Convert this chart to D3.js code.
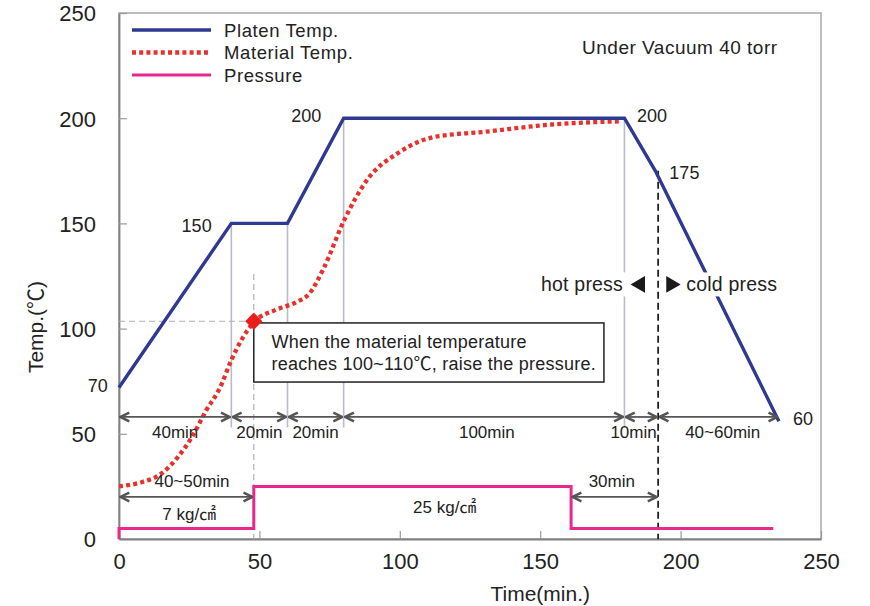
<!DOCTYPE html>
<html>
<head>
<meta charset="utf-8">
<script src="https://cdn.jsdelivr.net/npm/d3@7"></script>
<style>
  body { margin: 0; background: #fff; }
  text { font-family: "Liberation Sans", Arial, "Noto Sans CJK JP", sans-serif; fill: #222; }
</style>
</head>
<body>
<svg width="870" height="606"></svg>
<script>
////////////////////////////// DATA //////////////////////////////

var timeTicks = [0, 50, 100, 150, 200, 250];
var tempTicks = [0, 50, 100, 150, 200, 250];

// [time (min), temperature (C)]
var platenTemp = [[0, 72], [40, 150], [60, 150], [80, 200], [180, 200], [191, 175], [235, 56]];
var materialTemp = [[0, 25], [8, 27], [15, 31], [21, 39], [26, 48.5], [31, 61], [36, 72], [40, 85],
                    [44, 95.5], [48, 103], [56, 109], [63, 112.5], [68, 117], [73, 129], [80, 151],
                    [88, 170], [100, 184], [112, 191], [130, 193.5], [154, 197], [178, 198.5]];
// pressure drawn on the temperature scale
var pressure = [[0, 0], [0, 5], [48, 5], [48, 25], [161, 25], [161, 5], [233, 5]];

// thin grey guides that drop from the platen corners
var stageTimes = [40, 60, 80, 180];

var spans = [
  {t0: 0,   t1: 40,  at: 58, label: "40min",    lt: 20,    lT: 50.5, anchor: "middle"},
  {t0: 40,  t1: 60,  at: 58, label: "20min",    lt: 50,    lT: 50.5, anchor: "middle"},
  {t0: 60,  t1: 80,  at: 58, label: "20min",    lt: 70,    lT: 50.5, anchor: "middle"},
  {t0: 80,  t1: 180, at: 58, label: "100min",   lt: 131,   lT: 50.5, anchor: "middle"},
  {t0: 180, t1: 192, at: 58, label: "10min",    lt: 191.5, lT: 50.5, anchor: "end"},
  {t0: 192, t1: 235, at: 58, label: "40~60min", lt: 215,   lT: 50.5, anchor: "middle"},
  {t0: 0,   t1: 48,  at: 20, label: "40~50min", lt: 26,    lT: 27.5, anchor: "middle"},
  {t0: 161, t1: 192, at: 20, label: "30min",    lt: 175.5, lT: 27.5, anchor: "middle"}
];

var valueLabels = [
  {t: 33,  T: 149,   text: "150", anchor: "end"},
  {t: 72,  T: 201,   text: "200", anchor: "end"},
  {t: 184.5, T: 201, text: "200", anchor: "start"},
  {t: 196, T: 174,   text: "175", anchor: "start"},
  {t: 240, T: 57,    text: "60",  anchor: "start"},
  {t: -4,  T: 72.5,  text: "70",  anchor: "end"},
  {t: 25,  T: 11.5,  text: "7 kg/㎠",  anchor: "middle"},
  {t: 116, T: 15,    text: "25 kg/㎠", anchor: "middle"}
];

var legendNames = ["Platen Temp.", "Material Temp.", "Pressure"];
var noteLines = ["When the material temperature", "reaches 100~110℃, raise the pressure."];

////////////////////////////// SETUP //////////////////////////////

var svg = d3.select("svg"),
    margin = {top: 13, right: 49, bottom: 67, left: 119},
    width = +svg.attr("width") - margin.left - margin.right,
    height = +svg.attr("height") - margin.top - margin.bottom;

var colors = {platen: "#2e3991", material: "#e8312b", pressure: "#e8288e", arrow: "#555", guide: "#b9bcc8"};

var x = d3.scaleLinear().domain([0, 250]).range([0, width]);
var y = d3.scaleLinear().domain([0, 250]).range([height, 0]);

var g = svg.append("g").attr("transform", "translate(" + margin.left + "," + margin.top + ")");

var defs = svg.append("defs");
defs.append("marker")
    .attr("id", "arr")
    .attr("viewBox", "0 0 10 10")
    .attr("refX", 9).attr("refY", 5)
    .attr("markerUnits", "userSpaceOnUse")
    .attr("markerWidth", 11).attr("markerHeight", 12)
    .attr("orient", "auto-start-reverse")
  .append("path")
    .attr("d", "M1,1 L9,5 L1,9")
    .attr("fill", "none")
    .attr("stroke", colors.arrow)
    .attr("stroke-width", 2.3);

////////////////////////////// AXES //////////////////////////////

// frame
g.append("rect").attr("width", width).attr("height", height)
    .attr("fill", "none").attr("stroke", "#a8a8a8").attr("stroke-width", 1.5);

var yAxis = g.append("g")
    .call(d3.axisLeft(y).tickValues(tempTicks).tickSizeInner(-8).tickSizeOuter(0).tickPadding(23));
var xAxis = g.append("g").attr("transform", "translate(0," + height + ")")
    .call(d3.axisBottom(x).tickValues(timeTicks).tickSizeInner(-8).tickSizeOuter(0).tickPadding(14));

[yAxis, xAxis].forEach(function(ax) {
    ax.select(".domain").attr("stroke", "#808080").attr("stroke-width", 1.8);
    ax.selectAll(".tick line").attr("stroke", "#9a9a9a").attr("stroke-width", 1.2);
    ax.selectAll(".tick text").attr("font-size", 22).attr("fill", "#222")
        .style("font-family", "'Liberation Sans', Arial, sans-serif");
});
yAxis.selectAll(".tick text").attr("dy", "0.36em");

g.append("text")
    .attr("transform", "translate(-84,314) rotate(-90)")
    .attr("text-anchor", "middle").attr("dominant-baseline", "central")
    .attr("font-size", 21)
    .text("Temp.(℃)");

g.append("text")
    .attr("x", x(150)).attr("y", height + 54)
    .attr("text-anchor", "middle").attr("dominant-baseline", "central")
    .attr("font-size", 21)
    .text("Time(min.)");

////////////////////////////// GUIDES //////////////////////////////

g.selectAll(".stage").data(stageTimes).enter().append("line")
    .attr("class", "stage")
    .attr("x1", function(d) { return x(d); }).attr("x2", function(d) { return x(d); })
    .attr("y1", function(d) { return y(d3.max(platenTemp.filter(function(p) { return p[0] == d; }), function(p) { return p[1]; })); })
    .attr("y2", y(53))
    .attr("stroke", colors.guide).attr("stroke-width", 1.6);

// pressure-raise guides
g.append("line")
    .attr("x1", x(0)).attr("x2", x(48)).attr("y1", y(103.5)).attr("y2", y(103.5))
    .attr("stroke", "#b0b0b0").attr("stroke-width", 1.2).attr("stroke-dasharray", "6,4");
g.append("line")
    .attr("x1", x(48)).attr("x2", x(48)).attr("y1", y(126)).attr("y2", y(0))
    .attr("stroke", "#b0b0b0").attr("stroke-width", 1.2).attr("stroke-dasharray", "6,4");

// hot/cold boundary
g.append("line")
    .attr("x1", x(192)).attr("x2", x(192)).attr("y1", y(175)).attr("y2", y(0))
    .attr("stroke", "#222").attr("stroke-width", 1.8).attr("stroke-dasharray", "7,4");

////////////////////////////// SERIES //////////////////////////////

var line = d3.line().x(function(d) { return x(d[0]); }).y(function(d) { return y(d[1]); });
var curve = d3.line().curve(d3.curveMonotoneX).x(function(d) { return x(d[0]); }).y(function(d) { return y(d[1]); });

g.append("path").datum(pressure).attr("d", line)
    .attr("fill", "none").attr("stroke", colors.pressure).attr("stroke-width", 3);

g.append("path").datum(materialTemp).attr("d", curve)
    .attr("fill", "none").attr("stroke", colors.material).attr("stroke-width", 4.3)
    .attr("stroke-dasharray", "4,3.2");

g.append("path").datum(platenTemp).attr("d", line)
    .attr("fill", "none").attr("stroke", colors.platen).attr("stroke-width", 3.4)
    .attr("stroke-linejoin", "miter");

////////////////////////////// ANNOTATIONS //////////////////////////////

g.selectAll(".span").data(spans).enter().append("line")
    .attr("class", "span")
    .attr("x1", function(d) { return x(d.t0) + 1.5; })
    .attr("x2", function(d) { return x(d.t1) - 1.5; })
    .attr("y1", function(d) { return y(d.at); })
    .attr("y2", function(d) { return y(d.at); })
    .attr("stroke", colors.arrow).attr("stroke-width", 1.8)
    .attr("marker-start", "url(#arr)").attr("marker-end", "url(#arr)");

g.selectAll(".spanLabel").data(spans).enter().append("text")
    .attr("class", "spanLabel")
    .attr("x", function(d) { return x(d.lt); })
    .attr("y", function(d) { return y(d.lT); })
    .attr("text-anchor", function(d) { return d.anchor; })
    .attr("dominant-baseline", "central")
    .attr("font-size", 17)
    .text(function(d) { return d.label; });

g.selectAll(".valLabel").data(valueLabels).enter().append("text")
    .attr("class", "valLabel")
    .attr("x", function(d) { return x(d.t); })
    .attr("y", function(d) { return y(d.T); })
    .attr("text-anchor", function(d) { return d.anchor; })
    .attr("dominant-baseline", "central")
    .attr("font-size", function(d) { return d.text.length > 3 ? 17 : 18; })
    .text(function(d) { return d.text; });

g.append("text").attr("x", x(164.9)).attr("y", y(233.8))
    .attr("dominant-baseline", "central").attr("font-size", 19)
    .attr("letter-spacing", 0.5)
    .text("Under Vacuum 40 torr");

// note box
g.append("rect")
    .attr("x", x(48)).attr("y", y(102.7))
    .attr("width", x(172.7) - x(48)).attr("height", y(74.6) - y(102.7))
    .attr("fill", "#fff").attr("stroke", "#222").attr("stroke-width", 1.5);
g.selectAll(".note").data(noteLines).enter().append("text")
    .attr("class", "note")
    .attr("x", x(54.3))
    .attr("y", function(d, i) { return y(93.4 - i * 10.3); })
    .attr("dominant-baseline", "central").attr("font-size", 18)
    .attr("letter-spacing", 0.25)
    .text(function(d) { return d; });

// pressure-raise point
g.append("path")
    .attr("d", d3.symbol().type(d3.symbolDiamond2).size(190))
    .attr("transform", "translate(" + x(48) + "," + y(103.5) + ")")
    .attr("fill", "#e8201c");

// hot / cold press labels on white patches
var pressLabels = [{t: 179.5, text: "hot press", anchor: "end"}, {t: 202, text: "cold press", anchor: "start"}];
var pl = g.selectAll(".press").data(pressLabels).enter().append("g").attr("class", "press");
pl.append("rect");
pl.append("text")
    .attr("x", function(d) { return x(d.t); }).attr("y", y(121))
    .attr("text-anchor", function(d) { return d.anchor; })
    .attr("dominant-baseline", "central").attr("font-size", 19.5)
    .attr("letter-spacing", 0.2)
    .text(function(d) { return d.text; });
pl.each(function() {
    var b = d3.select(this).select("text").node().getBBox();
    d3.select(this).select("rect")
        .attr("x", b.x - 3).attr("y", b.y - 1).attr("width", b.width + 6).attr("height", b.height + 2)
        .attr("fill", "#fff");
});

g.append("path")
    .attr("d", d3.symbol().type(d3.symbolTriangle).size(120))
    .attr("transform", "translate(" + x(185.6) + "," + y(121) + ") rotate(-90)")
    .attr("fill", "#1a1a1a");
g.append("path")
    .attr("d", d3.symbol().type(d3.symbolTriangle).size(120))
    .attr("transform", "translate(" + x(196.6) + "," + y(121) + ") rotate(90)")
    .attr("fill", "#1a1a1a");

////////////////////////////// LEGEND //////////////////////////////

var legendStyles = [
  {color: colors.platen, width: 3.4, dash: null},
  {color: colors.material, width: 4.3, dash: "4,3.2"},
  {color: colors.pressure, width: 3, dash: null}
];
var legend = g.selectAll(".legend").data(legendNames).enter().append("g")
    .attr("class", "legend")
    .attr("transform", function(d, i) { return "translate(13," + (17 + i * 22.5) + ")"; });
legend.append("line")
    .attr("x1", 0).attr("x2", 79)
    .attr("stroke", function(d, i) { return legendStyles[i].color; })
    .attr("stroke-width", function(d, i) { return legendStyles[i].width; })
    .attr("stroke-dasharray", function(d, i) { return legendStyles[i].dash; });
legend.append("text")
    .attr("x", 92).attr("dominant-baseline", "central").attr("font-size", 18.5)
    .attr("letter-spacing", 0.6)
    .text(function(d) { return d; });
</script>
</body>
</html>
